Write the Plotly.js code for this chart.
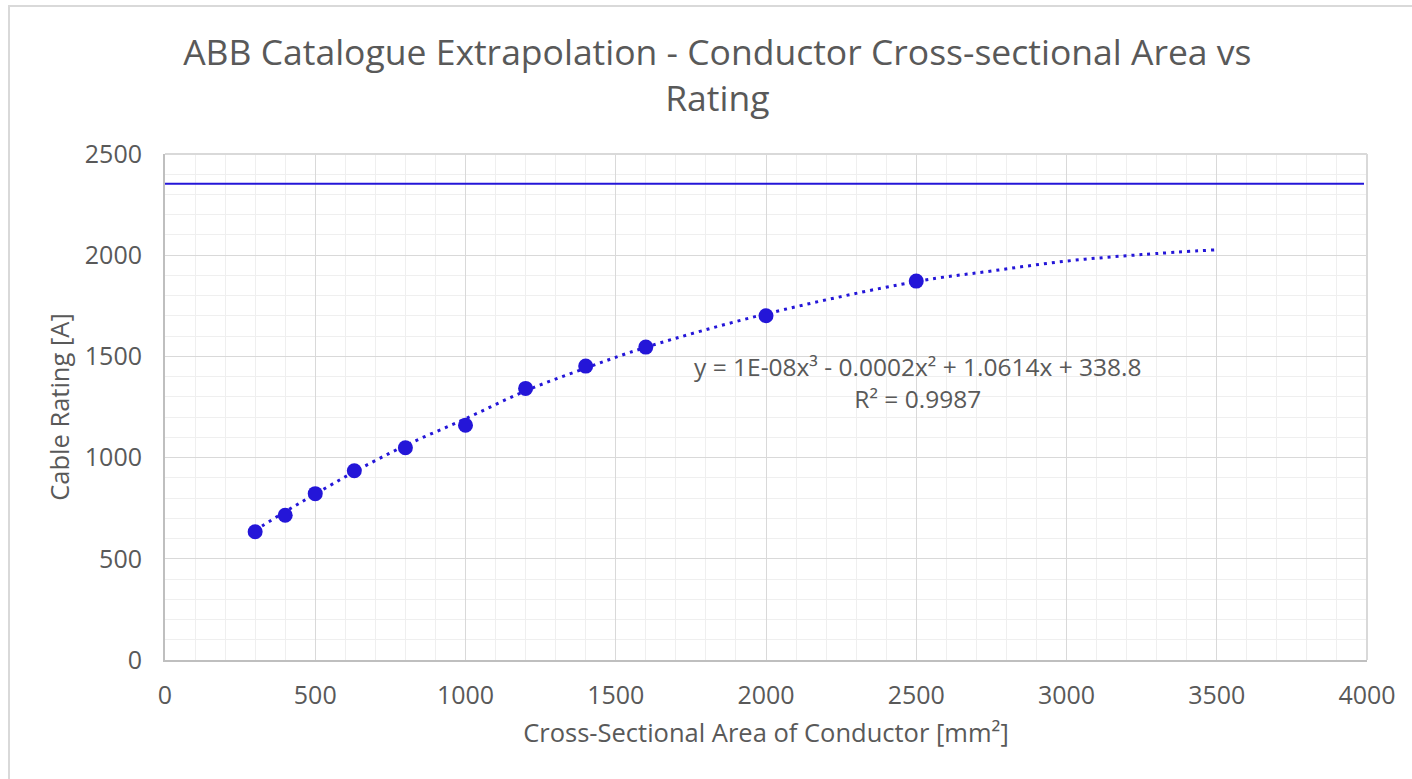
<!DOCTYPE html>
<html>
<head>
<meta charset="utf-8">
<script src="https://cdn.plot.ly/plotly-3.0.1.min.js"></script>
<style>
  html, body { margin: 0; padding: 0; background: #ffffff; overflow: hidden; }
  #frame { position: absolute; left: 8px; top: 5px; width: 1440px; height: 820px; border: 2px solid #d9d9d9; box-sizing: border-box; pointer-events: none; z-index: 2; }
  #chart { position: absolute; left: 0; top: 0; width: 1412px; height: 779px; }
</style>
</head>
<body>
<div id="chart"></div>
<div id="frame"></div>
<script>
// Catalogue data points
const areas = [300, 400, 500, 630, 800, 1000, 1200, 1400, 1600, 2000, 2500];
const ratings = [634, 715, 822, 935, 1049, 1160, 1342, 1452, 1546, 1701, 1872];

// Polynomial trendline
const trendX = [300, 400, 500, 630, 800, 1000, 1200, 1400, 1600, 2000, 2500, 2750, 3000, 3250, 3500];
const trendY = [640, 733, 820, 930, 1060, 1192, 1330, 1442, 1545, 1710, 1870, 1922, 1971, 2003, 2027];

// Horizontal limit line
const limitX = [0, 3990];
const limitY = [2353, 2353];

const titleText = 'ABB Catalogue Extrapolation - Conductor Cross-sectional Area vs<br>Rating';
const xTitle = 'Cross-Sectional Area of Conductor [mm²]';
const yTitle = 'Cable Rating [A]';
const eqText = 'y = 1E-08x³ - 0.0002x² + 1.0614x + 338.8<br>R² = 0.9987';

const blue = '#2416d8';
const textCol = '#595959';
const font = '"Open Sans", "Noto Sans", sans-serif';

const traces = [
  { x: limitX, y: limitY, type: 'scatter', mode: 'lines', line: { color: blue, width: 2 }, hoverinfo: 'skip', showlegend: false },
  { x: trendX, y: trendY, type: 'scatter', mode: 'lines', line: { color: blue, width: 3, dash: '3px,5px', shape: 'spline', smoothing: 1 }, showlegend: false },
  { x: areas, y: ratings, type: 'scatter', mode: 'markers', marker: { color: blue, size: 15 }, showlegend: false }
];

const layout = {
  width: 1412, height: 779,
  paper_bgcolor: '#ffffff', plot_bgcolor: '#ffffff',
  margin: { l: 165, r: 45, t: 154, b: 119 },
  font: { family: font, color: textCol },
  title: { text: titleText, x: 0.508, xanchor: 'center', yref: 'container', y: 0.9166, yanchor: 'top', font: { size: 35.5, color: textCol, family: font } },
  xaxis: {
    range: [0, 4000], dtick: 500, tick0: 0, showgrid: true, gridcolor: '#d9d9d9', gridwidth: 1,
    minor: { dtick: 100, showgrid: true, gridcolor: '#efefef', gridwidth: 1 },
    zeroline: false, showline: true, linecolor: '#bfbfbf', linewidth: 2, mirror: false,
    ticks: '', ticklabelstandoff: 12,
    tickfont: { size: 25, color: textCol, family: font },
    title: { text: xTitle, standoff: 14, font: { size: 25.5, color: textCol, family: font } }
  },
  yaxis: {
    range: [0, 2500], dtick: 500, tick0: 0, showgrid: true, gridcolor: '#d9d9d9', gridwidth: 1,
    minor: { dtick: 100, showgrid: true, gridcolor: '#efefef', gridwidth: 1 },
    zeroline: false, showline: true, linecolor: '#bfbfbf', linewidth: 2,
    ticks: '', ticklabelstandoff: 16,
    tickfont: { size: 25, color: textCol, family: font },
    title: { text: yTitle, standoff: 8, font: { size: 25.5, color: textCol, family: font } }
  },
  shapes: [
    { type: 'line', xref: 'paper', yref: 'paper', x0: 1, x1: 1, y0: 0, y1: 1, line: { color: '#d9d9d9', width: 2 } },
    { type: 'line', xref: 'paper', yref: 'paper', x0: 0, x1: 1, y0: 1, y1: 1, line: { color: '#d9d9d9', width: 2 } }
  ],
  annotations: [
    { text: eqText, x: 2506, y: 1373, xref: 'x', yref: 'y', xanchor: 'center', yanchor: 'middle', align: 'center', showarrow: false, font: { size: 24.5, color: textCol, family: font } }
  ]
};

Plotly.newPlot('chart', traces, layout, { displayModeBar: false, staticPlot: true });
</script>
</body>
</html>
